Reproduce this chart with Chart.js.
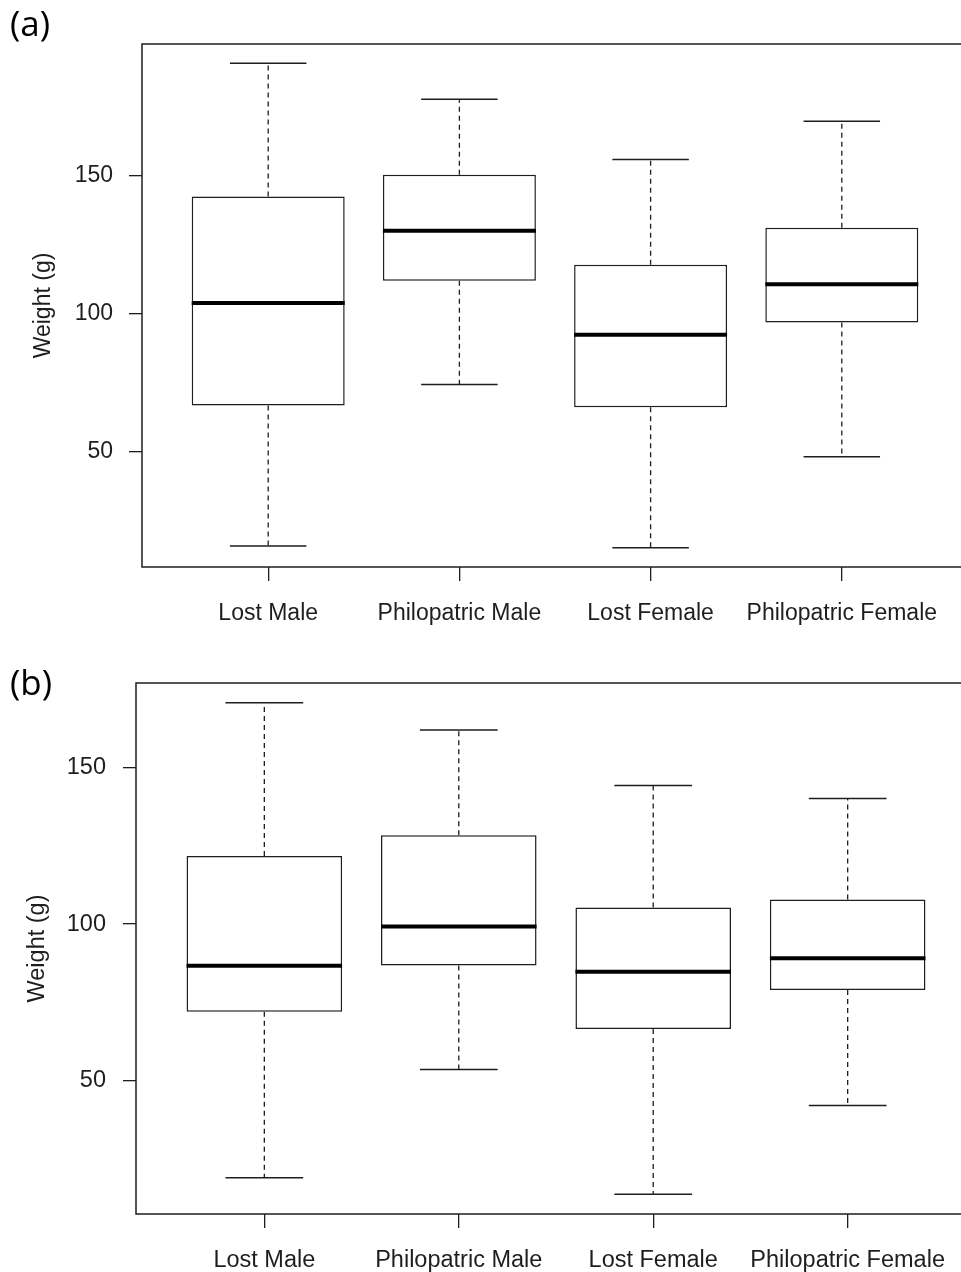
<!DOCTYPE html>
<html>
<head>
<meta charset="utf-8">
<script src="https://cdn.jsdelivr.net/npm/chart.js@4.4.1/dist/chart.umd.min.js"></script>
<style>
  html, body { margin: 0; padding: 0; background: #fff; overflow: hidden; }
  #page { position: relative; width: 961px; height: 1272px; overflow: hidden; }
  canvas { position: absolute; left: 0; }
  #chartA { top: 0; }
  #chartB { top: 640px; }
  .panel { position: absolute; left: 10px; font-family: "Open Sans", sans-serif; font-size: 35px; line-height: 1; color: #000; }
</style>
</head>
<body>
<div id="page">
  <canvas id="chartA" width="1000" height="640"></canvas>
  <canvas id="chartB" width="1000" height="632"></canvas>
  <div class="panel" style="top:5px">(a)</div>
  <div class="panel" style="top:664px">(b)</div>
</div>
<script>
const categories = ["Lost Male", "Philopatric Male", "Lost Female", "Philopatric Female"];
const positions = [1, 2, 3, 4];
const yTicks = [50, 100, 150];

// panel (a)
const minA = [15.7, 74.3, 15.1, 48.1];
const q1A = [66.7, 112.0, 66.1, 96.8];
const medA = [103.9, 130.1, 92.4, 110.7];
const q3A = [142.6, 150.5, 117.8, 131.2];
const maxA = [190.9, 177.9, 156.0, 169.9];

// panel (b)
const minB = [19.1, 53.6, 13.8, 42.1];
const q1B = [72.0, 86.8, 66.5, 79.0];
const medB = [86.7, 99.2, 84.8, 89.1];
const q3B = [121.7, 128.3, 105.3, 107.8];
const maxB = [170.6, 161.9, 144.2, 140.0];

const ink = "#1e1e1e";

// whiskers, staples, medians and the box round the plot
const boxParts = {
  id: "boxParts",
  afterDatasetsDraw(chart, args, opts) {
    const { ctx, scales: { x, y } } = chart;
    const s = opts.stats;
    ctx.save();
    ctx.strokeStyle = ink;
    positions.forEach((p, i) => {
      const cx = x.getPixelForValue(p);
      ctx.setLineDash([5, 4]);
      ctx.lineWidth = 1.3;
      ctx.beginPath();
      ctx.moveTo(cx, y.getPixelForValue(s.q3[i]));
      ctx.lineTo(cx, y.getPixelForValue(s.max[i]));
      ctx.moveTo(cx, y.getPixelForValue(s.q1[i]));
      ctx.lineTo(cx, y.getPixelForValue(s.min[i]));
      ctx.stroke();

      ctx.setLineDash([]);
      ctx.lineWidth = 1.5;
      const l = x.getPixelForValue(p - 0.2);
      const r = x.getPixelForValue(p + 0.2);
      ctx.beginPath();
      [s.max[i], s.min[i]].forEach((v) => {
        const yy = y.getPixelForValue(v);
        ctx.moveTo(l, yy);
        ctx.lineTo(r, yy);
      });
      ctx.stroke();

      ctx.strokeStyle = "#000";
      ctx.lineWidth = 4;
      const ym = y.getPixelForValue(s.med[i]);
      ctx.beginPath();
      ctx.moveTo(x.getPixelForValue(p - 0.4), ym);
      ctx.lineTo(x.getPixelForValue(p + 0.4), ym);
      ctx.stroke();
      ctx.strokeStyle = ink;
    });
    const a = chart.chartArea;
    ctx.lineWidth = 1.5;
    ctx.strokeRect(a.left, a.top, a.right - a.left, a.bottom - a.top);
    ctx.restore();
  }
};

function makeChart(id, stats, g) {
  const lo = Math.min(...stats.min);
  const hi = Math.max(...stats.max);
  const pad = 0.04 * (hi - lo);
  const font = { family: "'Liberation Sans', Arial, sans-serif", size: g.fontSize };

  return new Chart(document.getElementById(id), {
    type: "bar",
    data: {
      datasets: [{
        data: positions.map((p, i) => ({ x: p, y: [stats.q1[i], stats.q3[i]] })),
        backgroundColor: "#fff",
        borderColor: ink,
        borderWidth: 1.5,
        borderSkipped: false,
        barPercentage: 0.8,
        categoryPercentage: 1
      }]
    },
    options: {
      responsive: false,
      animation: false,
      devicePixelRatio: 1,
      layout: { padding: { left: 0, top: g.top, right: g.canvasW - g.right, bottom: 0 } },
      plugins: { legend: { display: false }, tooltip: { enabled: false }, boxParts: { stats } },
      scales: {
        x: {
          type: "linear",
          offset: false,
          min: 0.34,
          max: 4.66,
          afterBuildTicks: (s) => { s.ticks = positions.map((v) => ({ value: v })); },
          afterFit: (s) => { s.height = g.canvasH - g.bottom; },
          ticks: {
            callback: (v) => categories[positions.indexOf(v)],
            color: ink, font, padding: g.xPad, maxRotation: 0, autoSkip: false
          },
          grid: { display: true, offset: false, drawOnChartArea: false, drawTicks: true, tickLength: 14, color: ink, lineWidth: 1.3 },
          border: { display: false }
        },
        y: {
          min: lo - pad,
          max: hi + pad,
          afterBuildTicks: (s) => { s.ticks = yTicks.map((v) => ({ value: v })); },
          afterFit: (s) => { s.width = g.left; },
          ticks: { callback: (v) => String(v), color: ink, font, padding: g.yPad },
          grid: { display: true, drawOnChartArea: false, drawTicks: true, tickLength: 13, color: ink, lineWidth: 1.3 },
          border: { display: false },
          title: { display: true, text: "Weight (g)", color: ink, font, padding: { top: g.titlePad, bottom: 0 } }
        }
      }
    },
    plugins: [boxParts]
  });
}

makeChart("chartA", { min: minA, q1: q1A, med: medA, q3: q3A, max: maxA },
  { left: 142, right: 968, top: 44, bottom: 567, canvasW: 1000, canvasH: 640, fontSize: 23, xPad: 19, yPad: 16, titlePad: 30 });

makeChart("chartB", { min: minB, q1: q1B, med: medB, q3: q3B, max: maxB },
  { left: 136, right: 976, top: 43, bottom: 574, canvasW: 1000, canvasH: 632, fontSize: 23.5, xPad: 18, yPad: 17, titlePad: 23 });
</script>
</body>
</html>
